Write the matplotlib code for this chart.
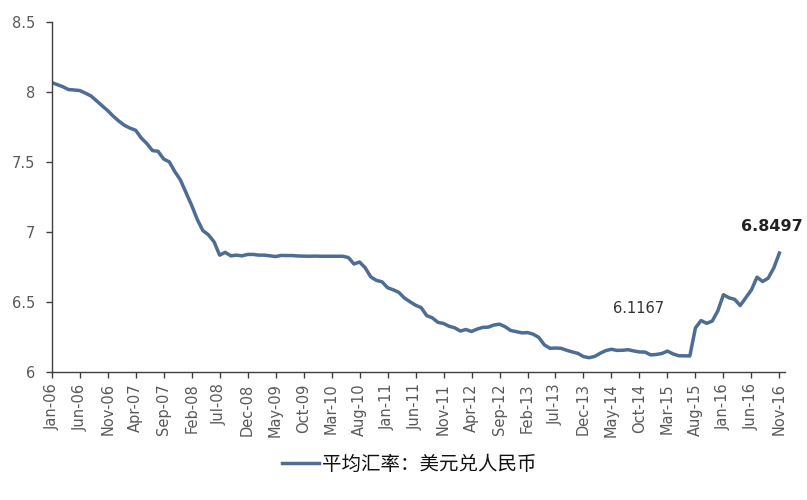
import numpy as np
import pandas as pd
import matplotlib
matplotlib.use('Agg')
from matplotlib import pyplot as plt

# monthly average USD/CNY (Jan-06 .. Nov-16)
y2006 = [8.065, 8.05, 8.035, 8.015, 8.012, 8.008, 7.99, 7.97, 7.935, 7.90, 7.865, 7.825]
y2007 = [7.79, 7.76, 7.74, 7.725, 7.67, 7.63, 7.58, 7.575, 7.52, 7.50, 7.43, 7.37]
y2008 = [7.28, 7.19, 7.09, 7.01, 6.98, 6.93, 6.835, 6.855, 6.83, 6.835, 6.83, 6.84]
y2009 = [6.84, 6.835, 6.835, 6.83, 6.825, 6.833, 6.832, 6.832, 6.829, 6.828, 6.827, 6.828]
y2010 = [6.827, 6.827, 6.827, 6.827, 6.827, 6.818, 6.772, 6.786, 6.745, 6.68, 6.655, 6.645]
y2011 = [6.603, 6.588, 6.570, 6.530, 6.503, 6.478, 6.461, 6.404, 6.388, 6.356, 6.348, 6.328]
y2012 = [6.317, 6.294, 6.305, 6.291, 6.308, 6.320, 6.322, 6.337, 6.343, 6.325, 6.298, 6.290]
y2013 = [6.281, 6.283, 6.272, 6.249, 6.196, 6.171, 6.173, 6.171, 6.157, 6.145, 6.135, 6.112]
y2014 = [6.104, 6.113, 6.136, 6.155, 6.164, 6.156, 6.157, 6.161, 6.152, 6.145, 6.144, 6.124]
y2015 = [6.127, 6.134, 6.151, 6.131, 6.118, 6.117, 6.1167, 6.316, 6.369, 6.349, 6.365, 6.438]
y2016 = [6.553, 6.531, 6.520, 6.476, 6.532, 6.587, 6.678, 6.647, 6.671, 6.744, 6.8497]

rate = np.array(y2006 + y2007 + y2008 + y2009 + y2010 + y2011 + y2012
                + y2013 + y2014 + y2015 + y2016)
months = pd.date_range('2006-01-01', periods=len(rate), freq='MS')
month_labels = [m.strftime('%b-%y') for m in months]

yticks = [6, 6.5, 7, 7.5, 8, 8.5]
ytick_labels = ['6', '6.5', '7', '7.5', '8', '8.5']

series_name = '平均汇率：美元兑人民币'
low_label = '6.1167'
last_label = '6.8497'

line_color = '#4d6d95'
text_color = '#595959'

fig = plt.figure(figsize=(8.07, 5.0), dpi=100)
ax = fig.add_axes([51.7/807, 1 - 372.3/500, 733.3/807, (372.3 - 21.5)/500])

x = np.arange(len(rate))
ax.plot(x, rate, color=line_color, lw=2.5, solid_joinstyle='round', label=series_name)

ax.set_xlim(0, 131)
ax.set_ylim(6, 8.5)
ax.set_xticks(x[::5])
ax.set_xticklabels(month_labels[::5], rotation=90, fontsize=10.5, color=text_color)
ax.set_yticks(yticks)
ax.set_yticklabels(ytick_labels, fontsize=10.5, color=text_color)

for s in ['top', 'right']:
    ax.spines[s].set_visible(False)
for s in ['left', 'bottom']:
    ax.spines[s].set_color('#404040')
    ax.spines[s].set_linewidth(1.0)
ax.tick_params(axis='both', direction='out', length=4, width=1.0, color='#404040')
ax.tick_params(axis='x', pad=4)
ax.tick_params(axis='y', pad=8)

ax.text(104.9, 6.458, low_label, ha='center', va='center', fontsize=10.5, color='#333333')
ax.text(128.7, 7.037, last_label, ha='center', va='center', fontsize=11.5,
        fontweight='bold', color='#222222')

leg = fig.legend(loc='center', bbox_to_anchor=(409/807, 1 - 464/500), frameon=False,
                 handlelength=1.9, handletextpad=0.15,
                 prop={'family': ['Noto Sans CJK SC', 'DejaVu Sans'], 'size': 14})
for t in leg.get_texts():
    t.set_color('#111111')

fig.savefig('out.png', dpi=100)
